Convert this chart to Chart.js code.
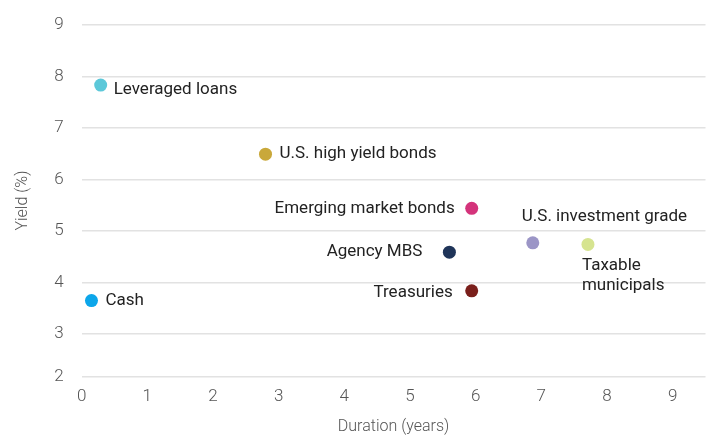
<!DOCTYPE html>
<html>
<head>
<meta charset="utf-8">
<style>
  html, body { margin: 0; padding: 0; background: #ffffff; }
  #wrap { width: 712px; height: 439px; position: relative; }
</style>
<script src="https://cdn.jsdelivr.net/npm/chart.js@4/dist/chart.umd.min.js"></script>
</head>
<body>
<div id="wrap"><canvas id="c" width="712" height="439"></canvas></div>
<script>
const assetNames = ['Leveraged loans', 'U.S. high yield bonds', 'Emerging market bonds', 'Agency MBS', 'Treasuries', 'U.S. investment grade', 'Taxable municipals', 'Cash'];
const durations = [0.29, 2.80, 5.94, 5.60, 5.94, 6.87, 7.71, 0.15];
const yields = [7.83, 6.49, 5.44, 4.59, 3.84, 4.77, 4.74, 3.65];
const pointColors = ['#5CC8D9', '#C9A83A', '#D4337B', '#1F3459', '#7A1F1B', '#9B95C6', '#D6E490', '#0CA6EA'];
const xTickValues = [0, 1, 2, 3, 4, 5, 6, 7, 8, 9];
const yTickValues = [2.18, 3, 4, 5, 6, 7, 8, 9];
const yTickLabels = ['2', '3', '4', '5', '6', '7', '8', '9'];

// label placement (style only): [dx, dy, align]
const labelPlacement = [
  [13, 5, 'left'], [14, 0, 'left'], [-17, 0, 'right'], [-27, 0, 'right'],
  [-19, 2, 'right'], [-11, -26, 'left'], [-6, 21, 'left'], [14, 0, 'left']
];

const labelPlugin = {
  id: 'pointLabels',
  afterDatasetsDraw(chart) {
    const ctx = chart.ctx;
    ctx.save();
    ctx.font = '17px Roboto, "Liberation Sans", sans-serif';
    ctx.fillStyle = '#222222';
    ctx.textBaseline = 'middle';
    chart.data.datasets.forEach((ds, i) => {
      const el = chart.getDatasetMeta(i).data[0];
      const p = labelPlacement[i];
      ctx.textAlign = p[2];
      const lines = assetNames[i] === 'Taxable municipals' ? ['Taxable', 'municipals'] : [assetNames[i]];
      lines.forEach((t, k) => ctx.fillText(t, el.x + p[0], el.y + p[1] + k * 20));
    });
    ctx.restore();
  }
};

new Chart(document.getElementById('c'), {
  type: 'scatter',
  data: {
    datasets: assetNames.map((n, i) => ({
      label: n,
      data: [{ x: durations[i], y: yields[i] }],
      backgroundColor: pointColors[i],
      borderColor: pointColors[i],
      pointRadius: 6.5,
      pointHoverRadius: 6.5,
      borderWidth: 0
    }))
  },
  options: {
    responsive: false,
    animation: false,
    devicePixelRatio: 1,
    layout: { padding: { top: 0, right: 2, left: 3, bottom: 0 } },
    plugins: { legend: { display: false }, tooltip: { enabled: false } },
    scales: {
      x: {
        type: 'linear', min: 0, max: 9.5,
        afterBuildTicks: (axis) => { axis.ticks = xTickValues.map(v => ({ value: v })); },
        grid: { display: false, drawTicks: false },
        border: { display: false },
        ticks: { color: '#555', font: { family: 'Roboto', size: 17, weight: 300 }, padding: 10, maxRotation: 0 },
        title: { display: true, text: 'Duration (years)', color: '#555', font: { family: 'Roboto', size: 16, weight: 300 }, padding: { top: 1, bottom: 2 } }
      },
      y: {
        type: 'linear', min: 2.18, max: 9,
        afterBuildTicks: (axis) => { axis.ticks = yTickValues.map(v => ({ value: v })); },
        grid: { color: '#e2e2e2', lineWidth: 1.5, drawTicks: false },
        border: { display: false },
        ticks: { color: '#555', font: { family: 'Roboto', size: 17, weight: 300, lineHeight: 0.8 }, padding: 18,
          callback: (v) => yTickLabels[yTickValues.indexOf(v)] },
        title: { display: true, text: 'Yield (%)', color: '#555', font: { family: 'Roboto', size: 16, weight: 300 }, padding: { top: 10, bottom: 4 } }
      }
    }
  },
  plugins: [labelPlugin]
});
</script>
</body>
</html>
